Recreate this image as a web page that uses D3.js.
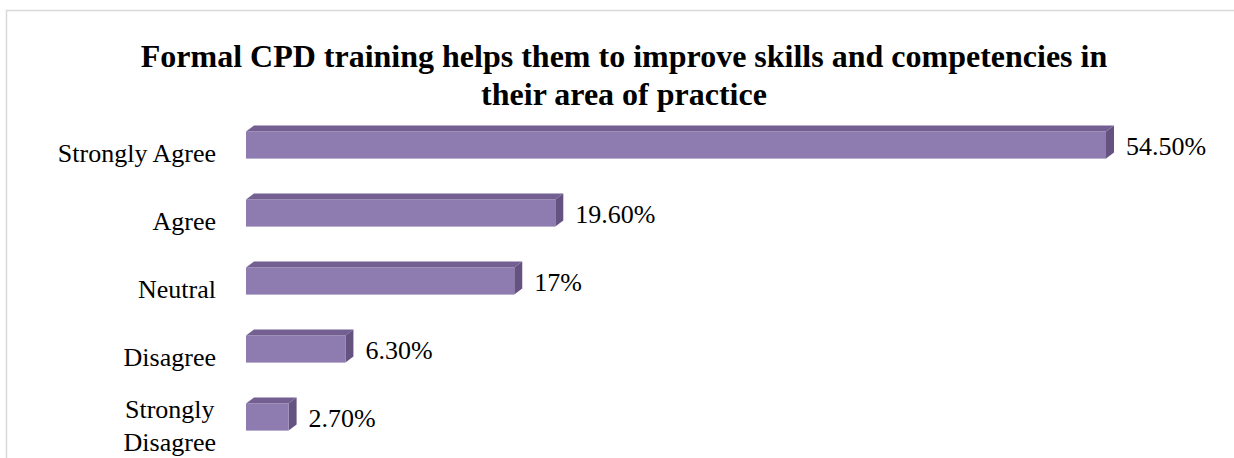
<!DOCTYPE html>
<html>
<head>
<meta charset="utf-8">
<script src="https://cdn.jsdelivr.net/npm/d3@7"></script>
<style>
  html, body { margin: 0; padding: 0; background: #ffffff; }
  svg { display: block; }
</style>
</head>
<body>
<svg id="chart" width="1234" height="458"></svg>
<script>
// Survey responses: share of respondents per answer
const categories = ["Strongly Agree", "Agree", "Neutral", "Disagree", "Strongly Disagree"];
const values = [54.5, 19.6, 17, 6.3, 2.7];
const titleLines = [
  "Formal CPD training helps them to improve skills and competencies in",
  "their area of practice"
];

const svg = d3.select("#chart");
const W = 1234, H = 458;

// chart frame
svg.append("rect")
  .attr("x", 6.5).attr("y", 10.5)
  .attr("width", 1240).attr("height", 470)
  .attr("fill", "#ffffff")
  .attr("stroke", "#d9d9d9")
  .attr("stroke-width", 1.5);

// title
const title = svg.append("text")
  .attr("text-anchor", "middle")
  .attr("font-family", "'Liberation Serif', 'Times New Roman', serif")
  .attr("font-weight", "bold")
  .attr("font-size", 32)
  .attr("fill", "#000");
title.selectAll("tspan").data(titleLines).join("tspan")
  .attr("x", 624)
  .attr("y", (d, i) => 67 + i * 38)
  .text(d => d);

// scales
const x = d3.scaleLinear().domain([0, 60]).range([246, 246 + 60 * 15.78]);
const y = d3.scaleBand().domain(categories).range([111, 451])
  .paddingInner(0.6).paddingOuter(0.3);

const depthX = 8, depthY = 6;
const colFront = "#8e7bb0", colTop = "#735f92", colSide = "#655280";

const data = categories.map((c, i) => ({ cat: c, v: values[i] }));

const bars = svg.append("g").selectAll("g.bar").data(data).join("g").attr("class", "bar");

// top face
bars.append("path")
  .attr("fill", colTop)
  .attr("d", d => {
    const x0 = x(0), x1 = x(d.v), y0 = y(d.cat);
    return `M${x0},${y0}L${x0 + depthX},${y0 - depthY}L${x1 + depthX},${y0 - depthY}L${x1},${y0}Z`;
  });
// side face
bars.append("path")
  .attr("fill", colSide)
  .attr("d", d => {
    const x1 = x(d.v), y0 = y(d.cat), y1 = y0 + y.bandwidth();
    return `M${x1},${y0}L${x1 + depthX},${y0 - depthY}L${x1 + depthX},${y1 - depthY}L${x1},${y1}Z`;
  });
// front face
bars.append("rect")
  .attr("fill", colFront)
  .attr("x", x(0))
  .attr("y", d => y(d.cat))
  .attr("width", d => x(d.v) - x(0))
  .attr("height", y.bandwidth());

// value labels
const fmt = v => (Number.isInteger(v) ? v.toString() : v.toFixed(2)) + "%";
svg.append("g").selectAll("text").data(data).join("text")
  .attr("x", d => x(d.v) + 20)
  .attr("y", d => y(d.cat) + y.bandwidth() / 2 + 10)
  .attr("font-family", "'Liberation Serif', 'Times New Roman', serif")
  .attr("font-size", 26)
  .attr("fill", "#000")
  .text(d => fmt(d.v));

// category labels (wrap the long one onto two lines)
const catG = svg.append("g")
  .attr("font-family", "'Liberation Serif', 'Times New Roman', serif")
  .attr("font-size", 26)
  .attr("fill", "#000");
categories.forEach(c => {
  const cy = y(c) + y.bandwidth() / 2;
  const words = c.split(" ");
  if (c === "Strongly Disagree") {
    const t = catG.append("text").attr("text-anchor", "middle");
    const lines = words;
    const sp = t.selectAll("tspan").data(lines).join("tspan")
      .attr("y", (d, i) => cy + 1 + i * 33)
      .text(d => d);
    let maxW = 0;
    sp.each(function () { maxW = Math.max(maxW, this.getComputedTextLength()); });
    sp.attr("x", 216 - maxW / 2);
  } else {
    catG.append("text")
      .attr("text-anchor", "end")
      .attr("x", 216)
      .attr("y", cy + 17)
      .text(c);
  }
});
</script>
</body>
</html>
